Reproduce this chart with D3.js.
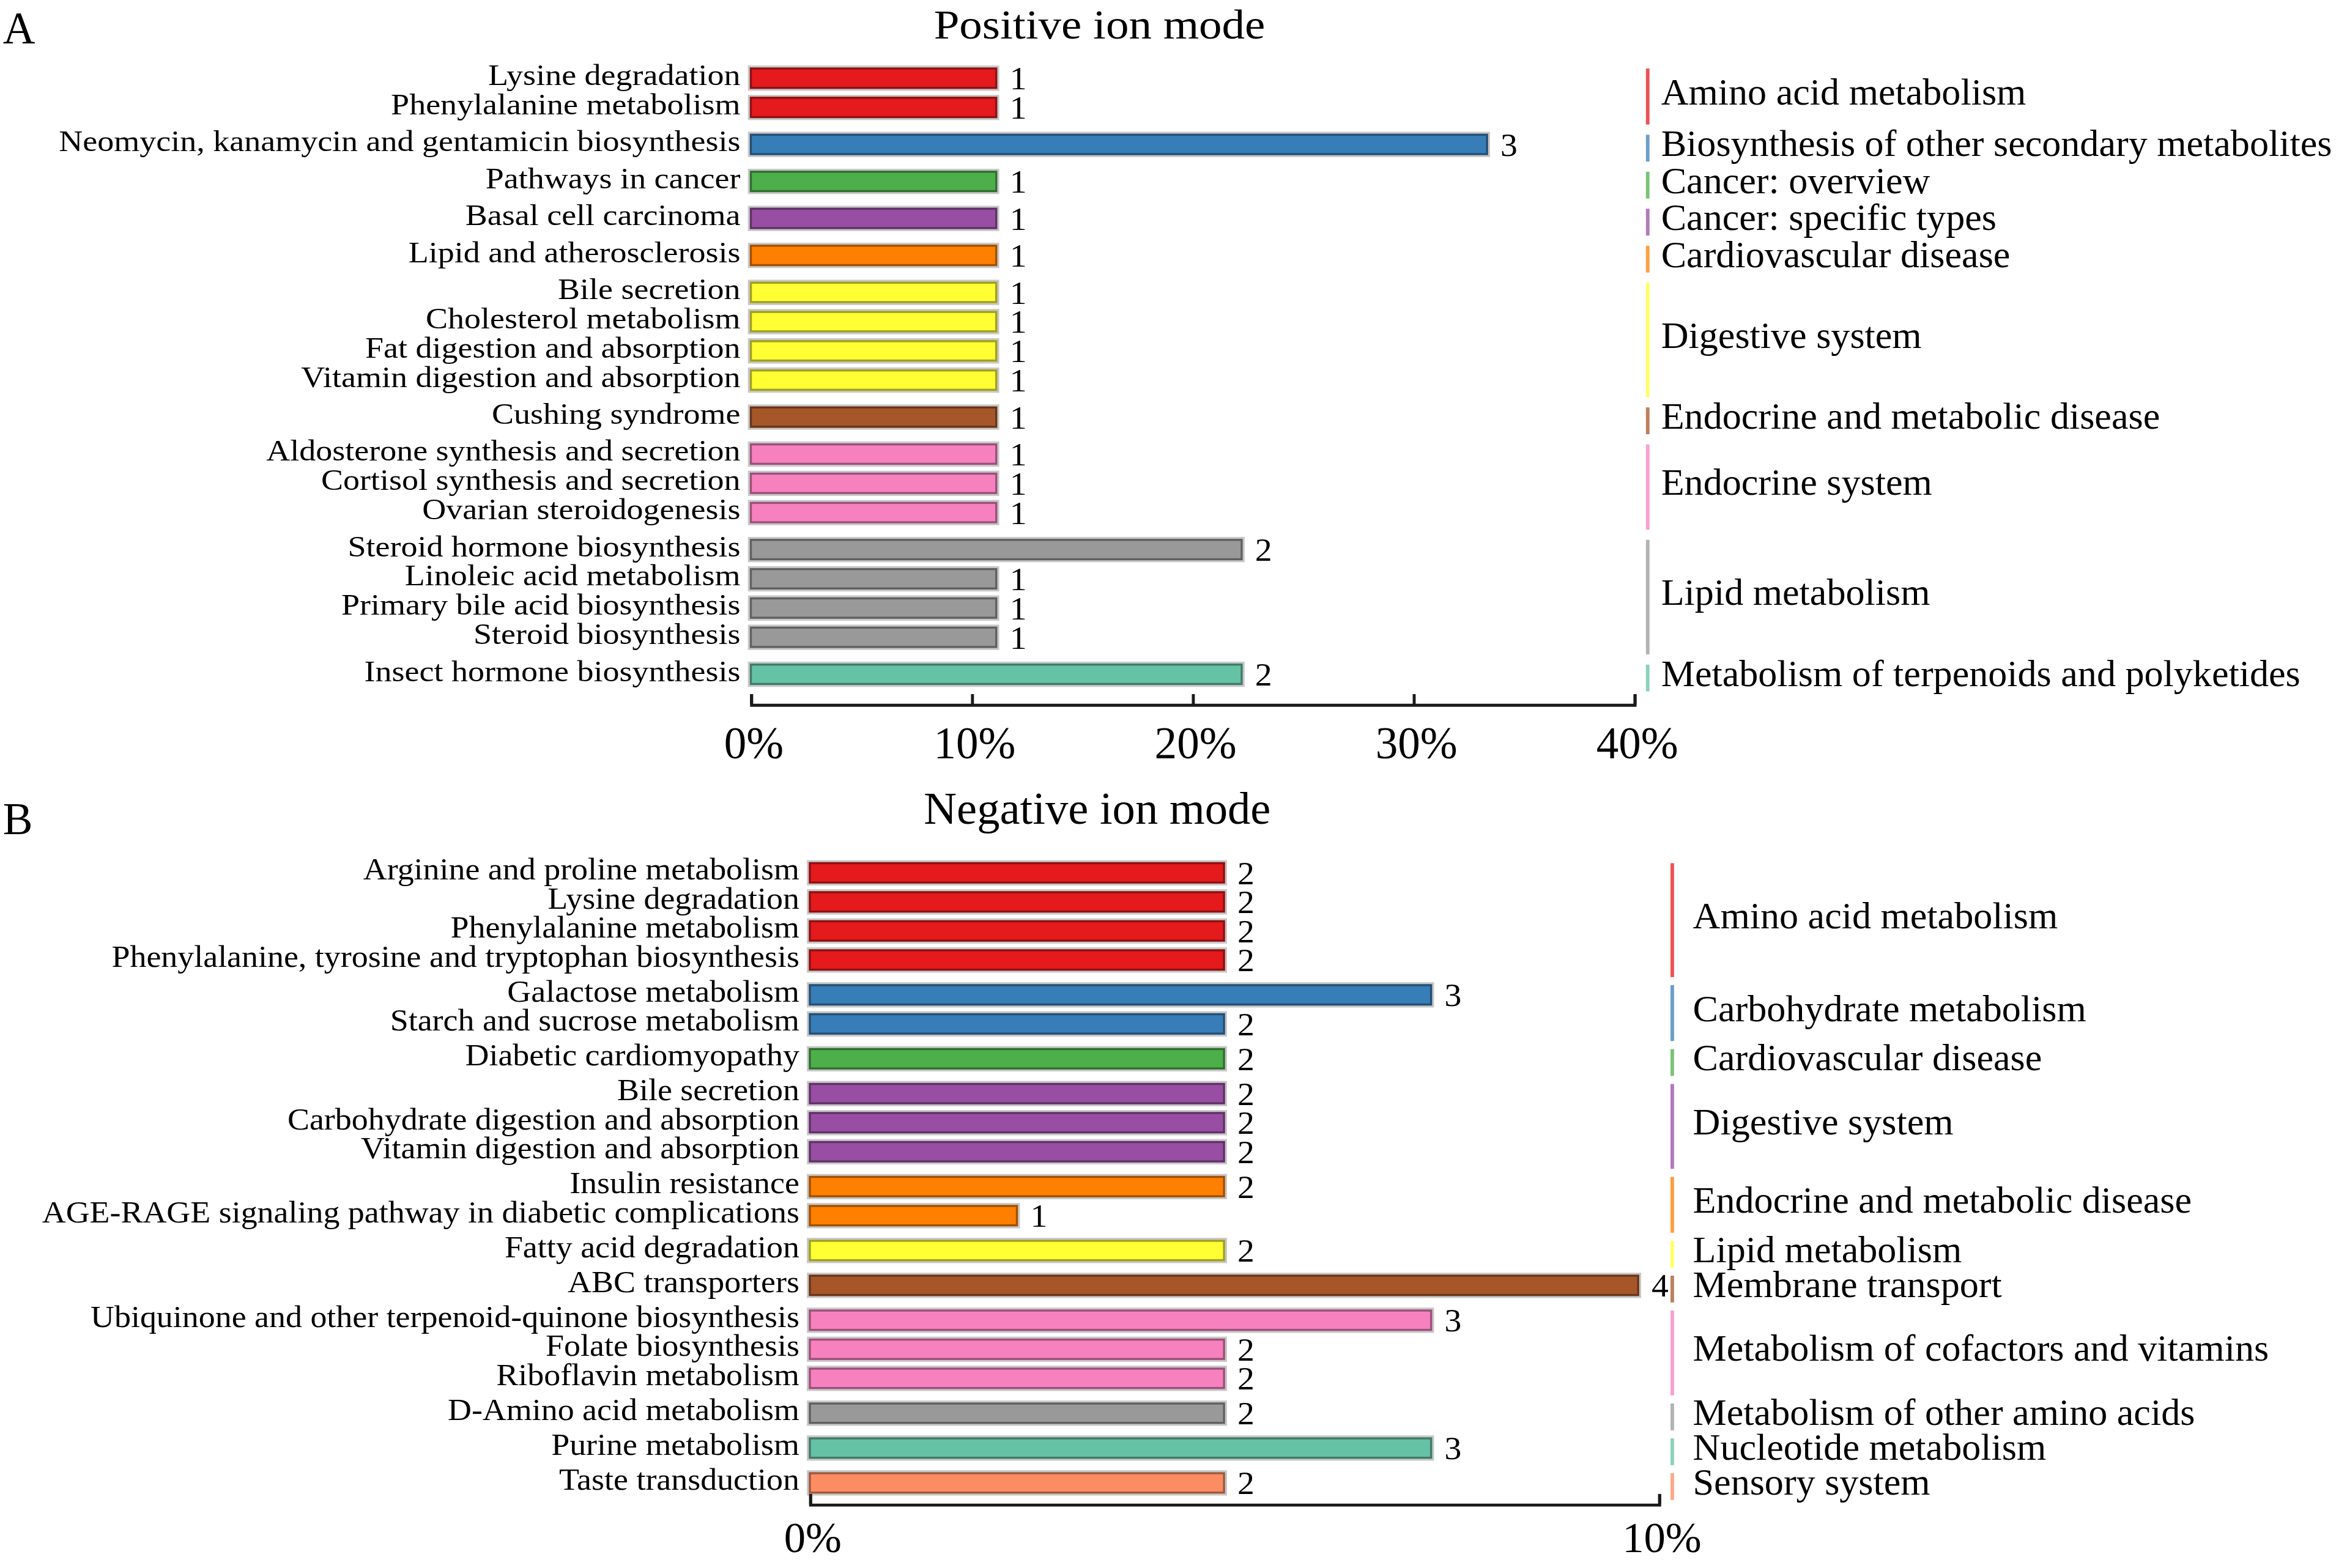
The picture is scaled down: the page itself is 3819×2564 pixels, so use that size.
<!DOCTYPE html>
<html>
<head>
<meta charset="utf-8">
<script src="https://cdn.jsdelivr.net/npm/d3@7"></script>
<style>
  html, body { margin: 0; padding: 0; background: #fff; }
  svg { display: block; }
</style>
</head>
<body>
<svg id="chart"></svg>
<script>
// ---------------- Data: positive ion mode ----------------
const posPathways = [
  "Lysine degradation", "Phenylalanine metabolism",
  "Neomycin, kanamycin and gentamicin biosynthesis",
  "Pathways in cancer", "Basal cell carcinoma", "Lipid and atherosclerosis",
  "Bile secretion", "Cholesterol metabolism", "Fat digestion and absorption", "Vitamin digestion and absorption",
  "Cushing syndrome",
  "Aldosterone synthesis and secretion", "Cortisol synthesis and secretion", "Ovarian steroidogenesis",
  "Steroid hormone biosynthesis", "Linoleic acid metabolism", "Primary bile acid biosynthesis", "Steroid biosynthesis",
  "Insect hormone biosynthesis"
];
const posCounts = [1, 1, 3, 1, 1, 1, 1, 1, 1, 1, 1, 1, 1, 1, 2, 1, 1, 1, 2];
const posClasses = [
  "Amino acid metabolism", "Amino acid metabolism",
  "Biosynthesis of other secondary metabolites",
  "Cancer: overview", "Cancer: specific types", "Cardiovascular disease",
  "Digestive system", "Digestive system", "Digestive system", "Digestive system",
  "Endocrine and metabolic disease",
  "Endocrine system", "Endocrine system", "Endocrine system",
  "Lipid metabolism", "Lipid metabolism", "Lipid metabolism", "Lipid metabolism",
  "Metabolism of terpenoids and polyketides"
];
const posTotal = 9;               // annotated compounds in this mode
const posTicks = [0, 10, 20, 30, 40];

// ---------------- Data: negative ion mode ----------------
const negPathways = [
  "Arginine and proline metabolism", "Lysine degradation", "Phenylalanine metabolism",
  "Phenylalanine, tyrosine and tryptophan biosynthesis",
  "Galactose metabolism", "Starch and sucrose metabolism",
  "Diabetic cardiomyopathy",
  "Bile secretion", "Carbohydrate digestion and absorption", "Vitamin digestion and absorption",
  "Insulin resistance", "AGE-RAGE signaling pathway in diabetic complications",
  "Fatty acid degradation",
  "ABC transporters",
  "Ubiquinone and other terpenoid-quinone biosynthesis", "Folate biosynthesis", "Riboflavin metabolism",
  "D-Amino acid metabolism",
  "Purine metabolism",
  "Taste transduction"
];
const negCounts = [2, 2, 2, 2, 3, 2, 2, 2, 2, 2, 2, 1, 2, 4, 3, 2, 2, 2, 3, 2];
const negClasses = [
  "Amino acid metabolism", "Amino acid metabolism", "Amino acid metabolism", "Amino acid metabolism",
  "Carbohydrate metabolism", "Carbohydrate metabolism",
  "Cardiovascular disease",
  "Digestive system", "Digestive system", "Digestive system",
  "Endocrine and metabolic disease", "Endocrine and metabolic disease",
  "Lipid metabolism",
  "Membrane transport",
  "Metabolism of cofactors and vitamins", "Metabolism of cofactors and vitamins", "Metabolism of cofactors and vitamins",
  "Metabolism of other amino acids",
  "Nucleotide metabolism",
  "Sensory system"
];
const negTotal = 41;
const negTicks = [0, 10];

// Class colours follow the order in which the classes appear (Set1-like palette)
const palette = ["#E41A1C", "#377EB8", "#4DAF4A", "#984EA3", "#FF7F00", "#FFFF33",
                 "#A65628", "#F781BF", "#999999", "#66C2A5", "#FC8D62"];

// ---------------- Canvas ----------------
const W = 3819, H = 2564;
const VW = 1568, VH = H * VW / W;   // drawing units of the reference at 1568 px wide
const FONT = '"Liberation Serif", "Times New Roman", Times, serif';

const svg = d3.select("#chart")
    .attr("width", W)
    .attr("height", H)
    .attr("viewBox", `0 0 ${VW} ${VH}`);

svg.append("rect").attr("width", VW).attr("height", VH).attr("fill", "#fff");

/**
 * Text drawn at (x, y) and stretched horizontally by k (the figure is slightly wide)
 */
function put_text(g, x, y, str, size, k = 1, anchor = "start") {
    return g.append("text")
        .attr("transform", `translate(${x},${y}) scale(${k},1)`)
        .attr("text-anchor", anchor)
        .attr("font-family", FONT)
        .attr("font-size", size)
        .attr("fill", "#000")
        .text(str);
}

/**
 * Render one panel: labels, bars, values, class legend and x axis
 * @param {*} cfg Panel data + layout
 */
function render_panel(cfg) {
    const g = svg.append("g").attr("class", "panel");

    // rows with a little extra room between classes
    let gi = -1, prev = null;
    const rows = cfg.pathways.map((name, i) => {
        if (cfg.classes[i] !== prev) { gi++; prev = cfg.classes[i]; }
        return { name, count: cfg.counts[i], cls: cfg.classes[i], pos: i + cfg.gap * gi };
    });

    const classNames = Array.from(new Set(cfg.classes));
    const color = d3.scaleOrdinal(classNames, palette);

    const x = d3.scaleLinear().domain([0, d3.max(cfg.ticks)]).range([cfg.x0, cfg.x1]);
    const y = d3.scaleLinear().domain([0, rows[rows.length - 1].pos]).range([cfg.yFirst, cfg.yLast]);
    const pct = d => d.count / cfg.total * 100;
    const bh = 13;

    // panel letter + title
    put_text(g, 2, cfg.letterY, cfg.letter, 30);
    put_text(g, cfg.titleX, cfg.titleY, cfg.title, cfg.titleSize, cfg.titleK, "middle");

    // pathway labels
    rows.forEach(d => put_text(g, cfg.x0 - 7, y(d.pos) + 4.5, d.name, cfg.labelSize, cfg.labelK, "end"));

    // bar halo (light grey edge around each bar)
    g.append("g").selectAll("rect")
        .data(rows)
        .join("rect")
        .attr("x", cfg.x0)
        .attr("y", d => y(d.pos) - bh / 2)
        .attr("width", d => x(pct(d)) - cfg.x0)
        .attr("height", bh)
        .attr("fill", "none")
        .attr("stroke", "#c8c8c8")
        .attr("stroke-width", 4);

    // bars
    g.append("g").selectAll("rect")
        .data(rows)
        .join("rect")
        .attr("x", cfg.x0)
        .attr("y", d => y(d.pos) - bh / 2)
        .attr("width", d => x(pct(d)) - cfg.x0)
        .attr("height", bh)
        .attr("fill", d => color(d.cls))
        .attr("stroke", d => d3.color(color(d.cls)).darker(1.3))
        .attr("stroke-width", 1.4);

    // count labels
    rows.forEach(d => put_text(g, x(pct(d)) + 9, y(d.pos) + 7.6, d.count, 22, 1.04));

    // class legend: thin coloured line + class name
    d3.groups(rows, d => d.cls).forEach(([cls, members]) => {
        const top = y(members[0].pos) - 6.5;
        const bot = y(members[members.length - 1].pos) + 11.5;
        g.append("line")
            .attr("x1", cfg.legendX).attr("x2", cfg.legendX)
            .attr("y1", top).attr("y2", bot)
            .attr("stroke", color(cls))
            .attr("stroke-opacity", 0.75)
            .attr("stroke-width", 2.4);
        const mid = (y(members[0].pos) + y(members[members.length - 1].pos)) / 2;
        put_text(g, cfg.legendX + cfg.legendPad, mid + 7.8, cls, 25.5);
    });

    // x axis, ticks pointing up
    const axis = g.append("g")
        .attr("transform", `translate(0,${cfg.axisY})`)
        .call(d3.axisBottom(x)
            .tickValues(cfg.ticks)
            .tickFormat(d => d + "%")
            .tickSizeInner(-7)
            .tickSizeOuter(-7)
            .tickPadding(cfg.tickPad));

    axis.select(".domain").attr("stroke", "#1a1a1a").attr("stroke-width", 2);
    axis.selectAll(".tick line").attr("stroke", "#1a1a1a").attr("stroke-width", 2);
    axis.selectAll(".tick text")
        .attr("font-family", FONT)
        .attr("font-size", cfg.tickSize)
        .attr("fill", "#000")
        .attr("dx", 1.5);
}

render_panel({
    letter: "A", letterY: 29,
    title: "Positive ion mode", titleX: 738, titleY: 25.7, titleSize: 28, titleK: 1.1,
    pathways: posPathways, counts: posCounts, classes: posClasses, total: posTotal, ticks: posTicks,
    x0: 504, x1: 1097, yFirst: 52.5, yLast: 452.7, gap: 0.265,
    labelSize: 19.8, labelK: 1.12,
    legendX: 1106, legendPad: 9,
    axisY: 473, tickPad: 14.7, tickSize: 30
});

render_panel({
    letter: "B", letterY: 560,
    title: "Negative ion mode", titleX: 736.5, titleY: 553, titleSize: 30, titleK: 1.02,
    pathways: negPathways, counts: negCounts, classes: negClasses, total: negTotal, ticks: negTicks,
    x0: 543.6, x1: 1113.5, yFirst: 586, yLast: 995.6, gap: 0.2,
    labelSize: 20.5, labelK: 1.08,
    legendX: 1122.5, legendPad: 13.8,
    axisY: 1010, tickPad: 11.4, tickSize: 29
});
</script>
</body>
</html>
